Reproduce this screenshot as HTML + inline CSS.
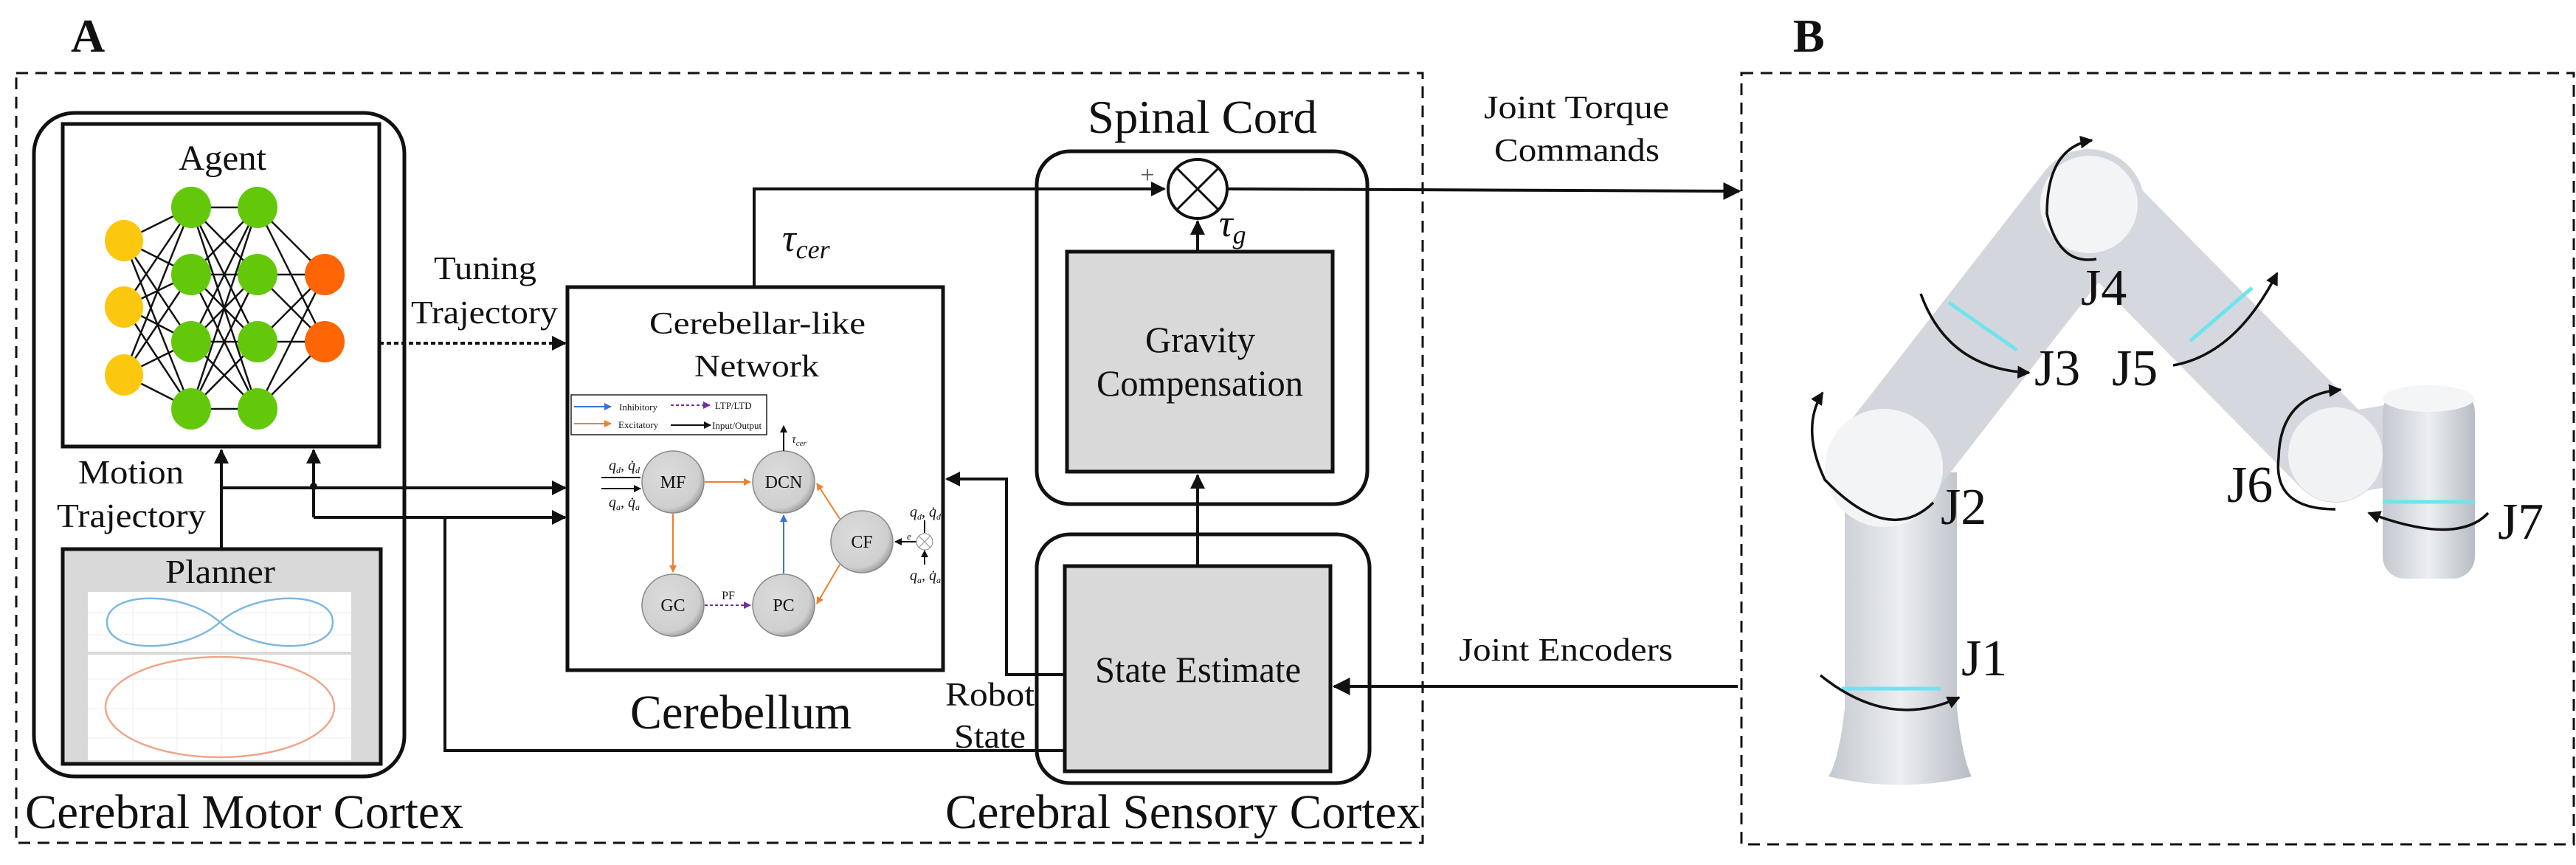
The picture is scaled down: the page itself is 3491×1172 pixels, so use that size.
<!DOCTYPE html>
<html><head><meta charset="utf-8"><style>
html,body{margin:0;padding:0;background:#fff}
svg{display:block}
</style></head><body>
<svg width="3491" height="1172" viewBox="0 0 3491 1172" xmlns="http://www.w3.org/2000/svg" font-family="'Liberation Serif', 'Times New Roman', serif" fill="#111">
<defs>
<marker id="ah" viewBox="0 0 10 10" refX="9" refY="5" markerWidth="5" markerHeight="5" orient="auto"><path d="M0,0L10,5L0,10z" fill="#111"/></marker>
<marker id="ahs" viewBox="0 0 10 10" refX="9" refY="5" markerWidth="6" markerHeight="6" orient="auto"><path d="M0,0L10,5L0,10z" fill="#111"/></marker>
<marker id="ao" viewBox="0 0 10 10" refX="9" refY="5" markerWidth="5" markerHeight="5" orient="auto"><path d="M0,0L10,5L0,10z" fill="#f07f2e"/></marker>
<marker id="ab" viewBox="0 0 10 10" refX="9" refY="5" markerWidth="5" markerHeight="5" orient="auto"><path d="M0,0L10,5L0,10z" fill="#3a72d8"/></marker>
<marker id="ap" viewBox="0 0 10 10" refX="9" refY="5" markerWidth="5" markerHeight="5" orient="auto"><path d="M0,0L10,5L0,10z" fill="#7030a0"/></marker>
<radialGradient id="gc" cx="0.4" cy="0.4" r="0.65"><stop offset="0" stop-color="#dcdcdc"/><stop offset="0.8" stop-color="#cfcfcf"/><stop offset="1" stop-color="#999"/></radialGradient>
<linearGradient id="arm" x1="0" y1="0" x2="1" y2="0"><stop offset="0" stop-color="#c3c8cf"/><stop offset="0.5" stop-color="#eceef1"/><stop offset="1" stop-color="#b7bcc4"/></linearGradient>
</defs>

<text x="96" y="70" font-size="64" font-weight="bold">A</text>
<text x="2430" y="70" font-size="64" font-weight="bold">B</text>

<rect x="22" y="99" width="1906" height="1043" fill="none" stroke="#111" stroke-width="3" stroke-dasharray="16,10"/>
<rect x="2360" y="99" width="1128" height="1045" fill="none" stroke="#111" stroke-width="3" stroke-dasharray="16,10"/>

<rect x="46" y="153" width="502" height="899" rx="55" fill="none" stroke="#111" stroke-width="5"/>
<rect x="85" y="168" width="429" height="437" fill="#fff" stroke="#111" stroke-width="5"/>
<text x="242" y="230" font-size="48" textLength="119" lengthAdjust="spacingAndGlyphs">Agent</text>
<g stroke="#111" stroke-width="2.5">
<path d="M168,326L259,281M168,326L259,372M168,326L259,463M168,326L259,554M168,416L259,281M168,416L259,372M168,416L259,463M168,416L259,554M168,508L259,281M168,508L259,372M168,508L259,463M168,508L259,554
M259,281L349,281M259,281L349,372M259,281L349,463M259,281L349,554M259,372L349,281M259,372L349,372M259,372L349,463M259,372L349,554M259,463L349,281M259,463L349,372M259,463L349,463M259,463L349,554M259,554L349,281M259,554L349,372M259,554L349,463M259,554L349,554
M349,281L440,372M349,281L440,463M349,372L440,372M349,372L440,463M349,463L440,372M349,463L440,463M349,554L440,372M349,554L440,463"/>
</g>
<g>
<ellipse cx="168" cy="326" rx="26" ry="28" fill="#fcc70f"/><ellipse cx="168" cy="416" rx="26" ry="28" fill="#fcc70f"/><ellipse cx="168" cy="508" rx="26" ry="28" fill="#fcc70f"/>
<ellipse cx="259" cy="281" rx="27" ry="28" fill="#63c80a"/><ellipse cx="259" cy="372" rx="27" ry="28" fill="#63c80a"/><ellipse cx="259" cy="463" rx="27" ry="28" fill="#63c80a"/><ellipse cx="259" cy="554" rx="27" ry="28" fill="#63c80a"/>
<ellipse cx="349" cy="281" rx="27" ry="28" fill="#63c80a"/><ellipse cx="349" cy="372" rx="27" ry="28" fill="#63c80a"/><ellipse cx="349" cy="463" rx="27" ry="28" fill="#63c80a"/><ellipse cx="349" cy="554" rx="27" ry="28" fill="#63c80a"/>
<ellipse cx="440" cy="372" rx="27" ry="28" fill="#fe6505"/><ellipse cx="440" cy="463" rx="27" ry="28" fill="#fe6505"/>
</g>

<rect x="85" y="744" width="431" height="291" fill="#d9d9d9" stroke="#111" stroke-width="5"/>
<text x="224" y="790" font-size="46" textLength="149" lengthAdjust="spacingAndGlyphs">Planner</text>
<rect x="119" y="802" width="357" height="81" fill="#fff"/>
<rect x="119" y="887" width="357" height="143" fill="#fff"/>
<g stroke="#eee" stroke-width="1"><path d="M119,830H476M119,860H476M180,802V883M240,802V883M300,802V883M360,802V883M420,802V883M119,920H476M119,960H476M119,1000H476M180,887V1030M240,887V1030M300,887V1030M360,887V1030M420,887V1030"/></g>
<path d="M298,843 C250,800 145,800 145,843 C145,886 250,886 298,843 C346,800 451,800 451,843 C451,886 346,886 298,843Z" fill="none" stroke="#7bb8e0" stroke-width="2.5"/>
<ellipse cx="298" cy="958" rx="155" ry="68" fill="none" stroke="#f0a58a" stroke-width="2.5"/>

<text x="106" y="655" font-size="46" textLength="143" lengthAdjust="spacingAndGlyphs">Motion</text>
<text x="77" y="714" font-size="46" textLength="202" lengthAdjust="spacingAndGlyphs">Trajectory</text>

<g stroke="#111" stroke-width="4" fill="none">
<path d="M300,744V610" marker-end="url(#ah)"/>
<path d="M300,661H766" marker-end="url(#ah)"/>
<path d="M425,701V610" marker-end="url(#ah)"/>
<path d="M425,701H766" marker-end="url(#ah)"/>
<path d="M603,701V1017H1443"/>
<path d="M514,465H766" stroke-dasharray="6,4" marker-end="url(#ah)"/>
</g>
<circle cx="425" cy="659" r="5" fill="#111"/>
<text x="588" y="378" font-size="44" textLength="139" lengthAdjust="spacingAndGlyphs">Tuning</text>
<text x="557" y="438" font-size="44" textLength="199" lengthAdjust="spacingAndGlyphs">Trajectory</text>

<rect x="769" y="389" width="509" height="519" fill="#fff" stroke="#111" stroke-width="5"/>
<text x="880" y="452" font-size="42" textLength="293" lengthAdjust="spacingAndGlyphs">Cerebellar-like</text>
<text x="941" y="510" font-size="42" textLength="169" lengthAdjust="spacingAndGlyphs">Network</text>
<rect x="774" y="535" width="265" height="54" fill="#fff" stroke="#222" stroke-width="1.5"/>
<path d="M778,551H828" stroke="#3a72d8" stroke-width="2" marker-end="url(#ab)"/>
<path d="M778,574H828" stroke="#f07f2e" stroke-width="2" marker-end="url(#ao)"/>
<path d="M909,549H962" stroke="#7030a0" stroke-width="2" stroke-dasharray="4,3" marker-end="url(#ap)"/>
<path d="M909,576H963" stroke="#111" stroke-width="2" marker-end="url(#ah)"/>
<text x="839" y="556" font-size="13">Inhibitory</text>
<text x="838" y="580" font-size="13">Excitatory</text>
<text x="969" y="554" font-size="13">LTP/LTD</text>
<text x="965" y="581" font-size="13">Input/Output</text>

<g stroke="#888" stroke-width="1.5" fill="url(#gc)">
<circle cx="912" cy="653" r="42"/><circle cx="1062" cy="653" r="42"/><circle cx="912" cy="820" r="42"/><circle cx="1062" cy="820" r="42"/><circle cx="1168" cy="734" r="42"/>
</g>
<g font-size="24" text-anchor="middle"><text x="912" y="661">MF</text><text x="1062" y="661">DCN</text><text x="912" y="828">GC</text><text x="1062" y="828">PC</text><text x="1168" y="742">CF</text></g>
<g stroke-width="2" fill="none">
<path d="M955,653H1017" stroke="#f07f2e" marker-end="url(#ao)"/>
<path d="M912,696V775" stroke="#f07f2e" marker-end="url(#ao)"/>
<path d="M955,820H1017" stroke="#7030a0" stroke-dasharray="4,3" marker-end="url(#ap)"/>
<path d="M1062,777V698" stroke="#3a72d8" marker-end="url(#ab)"/>
<path d="M1138,703L1107,655" stroke="#f07f2e" marker-end="url(#ao)"/>
<path d="M1138,765L1107,818" stroke="#f07f2e" marker-end="url(#ao)"/>
<path d="M1062,611V577" stroke="#111" marker-end="url(#ah)"/>
<path d="M815,647H868M815,662H868" stroke="#111" marker-end="url(#ah)"/>
<path d="M1242,734H1213" stroke="#111" marker-end="url(#ah)"/>
<path d="M1253,705V722M1253,765V746" stroke="#111" marker-end="url(#ah)"/>
</g>
<circle cx="1253" cy="734" r="11" fill="#fff" stroke="#999" stroke-width="1.2"/>
<path d="M1245,726L1261,742M1261,726L1245,742" stroke="#999" stroke-width="1.2"/>
<text x="987" y="812" font-size="16" text-anchor="middle">PF</text>
<text x="1073" y="600" font-size="16" font-style="italic">τ<tspan font-size="11" dy="4">cer</tspan></text>
<text x="846" y="637" font-size="20" font-style="italic" text-anchor="middle">q<tspan font-size="12" dy="4">d</tspan><tspan dy="-4">, q̇</tspan><tspan font-size="12" dy="4">d</tspan></text>
<text x="846" y="687" font-size="20" font-style="italic" text-anchor="middle">q<tspan font-size="12" dy="4">a</tspan><tspan dy="-4">, q̇</tspan><tspan font-size="12" dy="4">a</tspan></text>
<text x="1254" y="700" font-size="20" font-style="italic" text-anchor="middle">q<tspan font-size="12" dy="4">d</tspan><tspan dy="-4">, q̇</tspan><tspan font-size="12" dy="4">d</tspan></text>
<text x="1254" y="786" font-size="20" font-style="italic" text-anchor="middle">q<tspan font-size="12" dy="4">a</tspan><tspan dy="-4">, q̇</tspan><tspan font-size="12" dy="4">a</tspan></text>
<text x="1229" y="731" font-size="13" font-style="italic">e</text>

<text x="854" y="987" font-size="66" textLength="300" lengthAdjust="spacingAndGlyphs">Cerebellum</text>

<g stroke="#111" stroke-width="4" fill="none">
<path d="M1022,389V256H1578" marker-end="url(#ah)"/>
<path d="M1664,256L2357,259" marker-end="url(#ahs)"/>
</g>
<text x="1060" y="340" font-size="52" font-style="italic">τ<tspan font-size="36" dy="10">cer</tspan></text>

<text x="1474" y="180" font-size="64" textLength="311" lengthAdjust="spacingAndGlyphs">Spinal Cord</text>
<rect x="1405" y="205" width="448" height="478" rx="45" fill="none" stroke="#111" stroke-width="5"/>
<circle cx="1623" cy="256" r="40" fill="#fff" stroke="#111" stroke-width="4"/>
<path d="M1595,228L1651,284M1651,228L1595,284" stroke="#111" stroke-width="3"/>
<text x="1555" y="248" font-size="34" text-anchor="middle" fill="#555">+</text>
<path d="M1623,341V300" stroke="#111" stroke-width="4" marker-end="url(#ah)"/>
<text x="1652" y="320" font-size="52" font-style="italic">τ<tspan font-size="36" dy="10">g</tspan></text>
<rect x="1446" y="341" width="360" height="298" fill="#d9d9d9" stroke="#111" stroke-width="5"/>
<text x="1552" y="477" font-size="50" textLength="149" lengthAdjust="spacingAndGlyphs">Gravity</text>
<text x="1486" y="536" font-size="50" textLength="280" lengthAdjust="spacingAndGlyphs">Compensation</text>
<path d="M1623,767V644" stroke="#111" stroke-width="4" marker-end="url(#ah)"/>

<rect x="1405" y="724" width="451" height="337" rx="45" fill="none" stroke="#111" stroke-width="5"/>
<rect x="1443" y="767" width="360" height="278" fill="#d9d9d9" stroke="#111" stroke-width="5"/>
<text x="1484" y="924" font-size="50" textLength="279" lengthAdjust="spacingAndGlyphs">State Estimate</text>
<path d="M1443,914H1364V649H1283" stroke="#111" stroke-width="4" fill="none" marker-end="url(#ah)"/>
<path d="M2355,930H1808" stroke="#111" stroke-width="4" fill="none" marker-end="url(#ahs)"/>
<text x="1281" y="956" font-size="46" textLength="121" lengthAdjust="spacingAndGlyphs">Robot</text>
<text x="1293" y="1013" font-size="46" textLength="97" lengthAdjust="spacingAndGlyphs">State</text>

<text x="34" y="1122" font-size="66" textLength="594" lengthAdjust="spacingAndGlyphs">Cerebral Motor Cortex</text>
<text x="1281" y="1122" font-size="66" textLength="644" lengthAdjust="spacingAndGlyphs">Cerebral Sensory Cortex</text>

<text x="2011" y="160" font-size="44" textLength="251" lengthAdjust="spacingAndGlyphs">Joint Torque</text>
<text x="2025" y="218" font-size="44" textLength="224" lengthAdjust="spacingAndGlyphs">Commands</text>
<text x="1977" y="895" font-size="44" textLength="290" lengthAdjust="spacingAndGlyphs">Joint Encoders</text>

<!-- robot -->
<g>
<path d="M2500,640 L2652,640 L2652,960 Q2660,1030 2672,1052 Q2575,1075 2478,1052 Q2492,1030 2500,960Z" fill="url(#arm)"/>
<path d="M2553,634 L2831,277" stroke="#d3d7dd" stroke-width="150" stroke-linecap="round"/>
<path d="M2831,277 L3165,616" stroke="#d5d9df" stroke-width="130" stroke-linecap="round"/>
<path d="M3165,616 L3260,600" stroke="#d5d9df" stroke-width="110"/>
<rect x="3229" y="528" width="125" height="256" rx="30" fill="url(#arm)"/>
<ellipse cx="3291" cy="540" rx="62" ry="18" fill="#f4f5f7"/>
<circle cx="2553" cy="634" r="80" fill="#f3f4f6"/>
<circle cx="2831" cy="277" r="66" fill="#f3f4f6"/>
<circle cx="3165" cy="616" r="64" fill="#f1f2f4"/>
<g stroke="#6fe3ee" stroke-width="5"><path d="M2496,933H2630"/><path d="M2641,410L2733,474"/><path d="M3052,390L2968,462"/><path d="M3229,680H3354"/></g>
</g>
<g stroke="#111" stroke-width="3.5" fill="none">
<path d="M2467,915 Q2560,990 2655,945" marker-end="url(#ah)"/>
<path d="M2620,681 Q2560,740 2473,650 Q2440,580 2470,532" marker-end="url(#ah)"/>
<path d="M2603,398 Q2640,500 2750,505" marker-end="url(#ah)"/>
<path d="M2841,351 Q2790,360 2774,290 Q2774,200 2835,190" marker-end="url(#ah)"/>
<path d="M2945,495 Q3030,480 3086,370" marker-end="url(#ah)"/>
<path d="M3165,690 Q3080,690 3088,620 Q3090,535 3172,528" marker-end="url(#ah)"/>
<path d="M3372,695 Q3330,740 3210,695" marker-end="url(#ah)"/>
</g>
<g font-size="70">
<text x="2658" y="915">J1</text><text x="2630" y="710">J2</text><text x="2757" y="522">J3</text><text x="2820" y="413">J4</text><text x="2862" y="522">J5</text><text x="3018" y="680">J6</text><text x="3385" y="730">J7</text>
</g>
</svg>
</body></html>
